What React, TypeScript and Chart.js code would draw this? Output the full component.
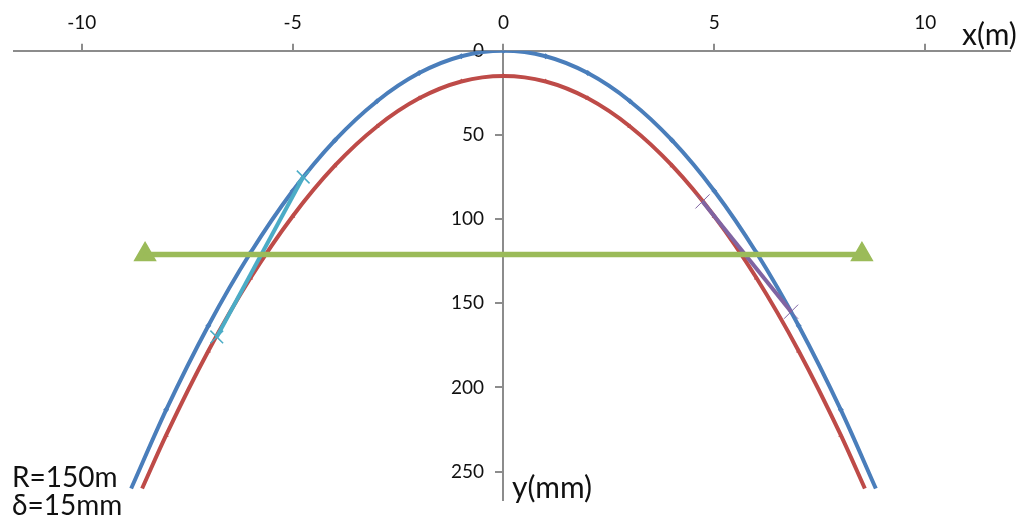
import React, { useEffect, useRef } from "react";
import { Chart, registerables } from "chart.js";

Chart.register(...registerables);

// Track deflection curves (x in m, y in mm)
const blueX = [-8.83, -8, -7, -6, -5, -4, -3, -2, -1, 0, 1, 2, 3, 4, 5, 6, 7, 8, 8.83];
const blueY = [260, 213.3, 163.3, 120, 83.3, 53.3, 30, 13.3, 3.3, 0, 3.3, 13.3, 30, 53.3, 83.3, 120, 163.3, 213.3, 260];
const redX = [-8.57, -8, -7, -6, -5, -4, -3, -2, -1, 0, 1, 2, 3, 4, 5, 6, 7, 8, 8.57];
const redY = [260, 228.3, 178.3, 135, 98.3, 68.3, 45, 28.3, 18.3, 15, 18.3, 28.3, 45, 68.3, 98.3, 135, 178.3, 228.3, 260];
const greenX = [-8.5, 8.5];
const greenY = [121, 121];
const cyanX = [-4.75, -6.8];
const cyanY = [75, 170];
const purpleX = [4.72, 6.82];
const purpleY = [89.5, 155];

const xTicks = [-10, -5, 0, 5, 10];
const yTicks = [0, 50, 100, 150, 200, 250];
const X_MIN = -11.62;
const X_MAX = 12;
const Y_MIN = 0;
const Y_MAX = 267;

const FONT = "Lato, 'Noto Sans', sans-serif";
const AXIS = "#8c8c8c";
// pixel frame of the reference plot (edges of the axis ranges)
const FRAME = { left: 8.2, right: 1018.2, top: 50.7, bottom: 500.3 };

const pts = (xs: number[], ys: number[]) => xs.map((x, i) => ({ x, y: ys[i] }));

export default function App() {
  const ref = useRef<HTMLCanvasElement | null>(null);
  useEffect(() => {
    if (!ref.current) return;
    const intRadius = (r: number) => (ctx: any) => {
      const p = ctx.raw;
      return p && Number.isInteger(p.x) ? r : 0;
    };
    const padding = { left: 8, right: 5, top: 12, bottom: 18 };
    const chart = new Chart(ref.current, {
      type: "scatter",
      data: {
        datasets: [
          {
            data: pts(greenX, greenY),
            showLine: true,
            borderColor: "#9bbb59",
            backgroundColor: "#9bbb59",
            borderWidth: 5.5,
            pointStyle: "triangle",
            pointRadius: 8,
            order: 0,
          },
          {
            data: pts(purpleX, purpleY),
            showLine: true,
            borderColor: "#8064a2",
            backgroundColor: "#8064a2",
            borderWidth: 4,
            pointStyle: "crossRot",
            pointRadius: 10,
            pointBorderWidth: 1,
            order: 1,
          },
          {
            data: pts(cyanX, cyanY),
            showLine: true,
            borderColor: "#4bacc6",
            backgroundColor: "#4bacc6",
            borderWidth: 4,
            pointStyle: "crossRot",
            pointRadius: 9,
            pointBorderWidth: 1.5,
            order: 2,
          },
          {
            data: pts(redX, redY),
            showLine: true,
            cubicInterpolationMode: "monotone",
            borderColor: "#be4b48",
            backgroundColor: "#be4b48",
            borderWidth: 4,
            pointStyle: "triangle",
            pointRadius: intRadius(3) as any,
            pointBorderWidth: 0,
            order: 3,
          },
          {
            data: pts(blueX, blueY),
            showLine: true,
            cubicInterpolationMode: "monotone",
            borderColor: "#4a7ebb",
            backgroundColor: "#4a7ebb",
            borderWidth: 4,
            pointStyle: "rectRot",
            pointRadius: intRadius(3) as any,
            pointBorderWidth: 0,
            order: 4,
          },
        ],
      },
      options: {
        responsive: false,
        animation: false,
        layout: { padding: { ...padding } },
        plugins: { legend: { display: false }, tooltip: { enabled: false } },
        scales: {
          x: {
            type: "linear",
            position: "top",
            min: X_MIN,
            max: X_MAX,
            afterBuildTicks: (s: any) => {
              s.ticks = xTicks.map((v) => ({ value: v }));
            },
            grid: { drawOnChartArea: false, color: AXIS, lineWidth: 2, tickLength: 7 },
            border: { color: AXIS, width: 2 },
            ticks: { color: "#111", font: { family: FONT, size: 19 }, padding: 9, maxRotation: 0 },
          },
          y: {
            type: "linear",
            position: { x: 0 } as any,
            reverse: true,
            min: Y_MIN,
            max: Y_MAX,
            afterBuildTicks: (s: any) => {
              s.ticks = yTicks.map((v) => ({ value: v }));
            },
            grid: { drawOnChartArea: false, color: AXIS, lineWidth: 2, tickLength: 7 },
            border: { color: AXIS, width: 2 },
            ticks: {
              color: "#111",
              font: { family: FONT, size: 19 },
              callback: (v: any) => String(v) + "    ",
            },
          },
        },
      },
    });
    // Align the axis ranges with the reference frame.
    for (let i = 0; i < 4; i++) {
      const sx = chart.scales.x;
      const sy = chart.scales.y;
      const l = sx.getPixelForValue(X_MIN);
      const r = sx.getPixelForValue(X_MAX);
      const t = sy.getPixelForValue(Y_MIN);
      const b = sy.getPixelForValue(Y_MAX);
      padding.left += FRAME.left - l;
      padding.right += r - FRAME.right;
      padding.top += FRAME.top - t;
      padding.bottom += b - FRAME.bottom;
      (chart.options as any).layout.padding = { ...padding };
      chart.update();
    }
    return () => chart.destroy();
  }, []);

  const label: React.CSSProperties = {
    position: "absolute",
    fontFamily: FONT,
    fontSize: 28,
    color: "#111",
    lineHeight: "28px",
    whiteSpace: "nowrap",
  };

  return (
    <div style={{ position: "fixed", left: 0, top: 0, width: 1023, height: 520, background: "#fff" }}>
      <canvas ref={ref} width={1023} height={520} style={{ display: "block", width: 1023, height: 520 }} />
      <div style={{ ...label, fontSize: 30, left: 962, top: 19 }}>x(m)</div>
      <div style={{ ...label, fontSize: 30, left: 512, top: 472 }}>y(mm)</div>
      <div style={{ ...label, left: 12, top: 462 }}>R=150m</div>
      <div style={{ ...label, left: 12, top: 490 }}>δ=15mm</div>
    </div>
  );
}
